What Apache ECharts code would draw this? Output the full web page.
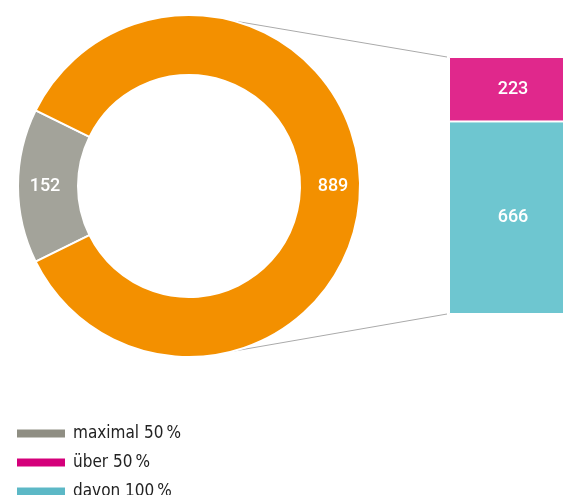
<!DOCTYPE html>
<html>
<head>
<meta charset="utf-8">
<script src="https://cdn.jsdelivr.net/npm/echarts@6/dist/echarts.min.js"></script>
<style>
  html, body { margin: 0; padding: 0; background: #fff; }
  #chart { width: 563px; height: 495px; }
</style>
</head>
<body>
<div id="chart"></div>
<script>
  // Werte
  var pieNames = ['maximal 50\u2009%', 'über 50\u2009% gesamt'];
  var pieValues = [152, 889];
  var barNames = ['davon 100\u2009%', 'über 50\u2009%'];
  var barValues = [666, 223];
  var legendNames = ['maximal 50\u2009%', 'über 50\u2009%', 'davon 100\u2009%'];

  var pieColors = ['#a3a39a', '#f39000'];
  var barColors = ['#6ec6d0', '#e0288c'];
  var legendColors = ['#8f8e83', '#d4007a', '#5cb8c6'];

  var chartDom = document.getElementById('chart');
  var myChart = echarts.init(chartDom);

  var pieTotal = pieValues[0] + pieValues[1];
  var barTotal = barValues[0] + barValues[1];
  // graues Segment mittig links
  var half = pieValues[0] / pieTotal * 360 / 2;

  var labelStyle = {
    show: true,
    formatter: '{c}',
    color: '#fff',
    fontFamily: 'Roboto',
    fontWeight: 500,
    fontSize: 18
  };

  var pieData = [];
  for (var i = 0; i < pieValues.length; i++) {
    pieData.push({name: pieNames[i], value: pieValues[i], itemStyle: {color: pieColors[i]}});
  }

  var barSeries = [];
  for (var j = 0; j < barValues.length; j++) {
    barSeries.push({
      name: barNames[j],
      type: 'bar',
      stack: 'gesamt',
      data: [barValues[j]],
      barWidth: '100%',
      itemStyle: {color: barColors[j], borderColor: '#fff', borderWidth: 1},
      label: Object.assign({position: 'inside'}, labelStyle),
      silent: true
    });
  }

  var legendData = [];
  for (var k = 0; k < legendNames.length; k++) {
    legendData.push({name: legendNames[k], itemStyle: {color: legendColors[k]}});
  }

  var option = {
    animation: false,
    legend: {
      orient: 'vertical',
      left: 15,
      top: 425,
      height: 110,
      padding: 0,
      itemWidth: 50,
      itemHeight: 10,
      itemGap: 12,
      icon: 'rect',
      selectedMode: false,
      data: legendData,
      textStyle: {
        fontFamily: 'DejaVu Sans Condensed',
        fontSize: 17,
        color: '#222',
        padding: [0, 0, 0, 2]
      }
    },
    grid: {
      left: 449,
      top: 57,
      width: 128,
      height: 257,
      outerBoundsMode: 'none',
      containLabel: false
    },
    xAxis: {
      type: 'category',
      data: [''],
      show: false
    },
    yAxis: {
      type: 'value',
      min: 0,
      max: barTotal,
      show: false
    },
    series: [
      {
        type: 'pie',
        center: [189, 186],
        radius: [111, 171],
        startAngle: 180 + half,
        clockwise: true,
        silent: true,
        itemStyle: {borderColor: '#fff', borderWidth: 2},
        label: Object.assign({position: 'inside'}, labelStyle),
        labelLine: {show: false},
        data: pieData
      }
    ].concat(barSeries)
  };

  myChart.setOption(option);

  // Verbindungslinien vom Ring zum Balken
  var cx = 189, cy = 186, r = 171;
  var ang = 75 * Math.PI / 180;
  var barTop = myChart.convertToPixel({yAxisIndex: 0}, barTotal);
  var barBottom = myChart.convertToPixel({yAxisIndex: 0}, 0);
  var barLeft = 447;
  myChart.setOption({
    graphic: [
      {
        type: 'line',
        silent: true,
        shape: {x1: cx + r * Math.cos(ang), y1: cy - r * Math.sin(ang), x2: barLeft, y2: barTop},
        style: {stroke: '#aaaaaa', lineWidth: 1}
      },
      {
        type: 'line',
        silent: true,
        shape: {x1: cx + r * Math.cos(ang), y1: cy + r * Math.sin(ang), x2: barLeft, y2: barBottom},
        style: {stroke: '#aaaaaa', lineWidth: 1}
      }
    ]
  });
</script>
</body>
</html>
